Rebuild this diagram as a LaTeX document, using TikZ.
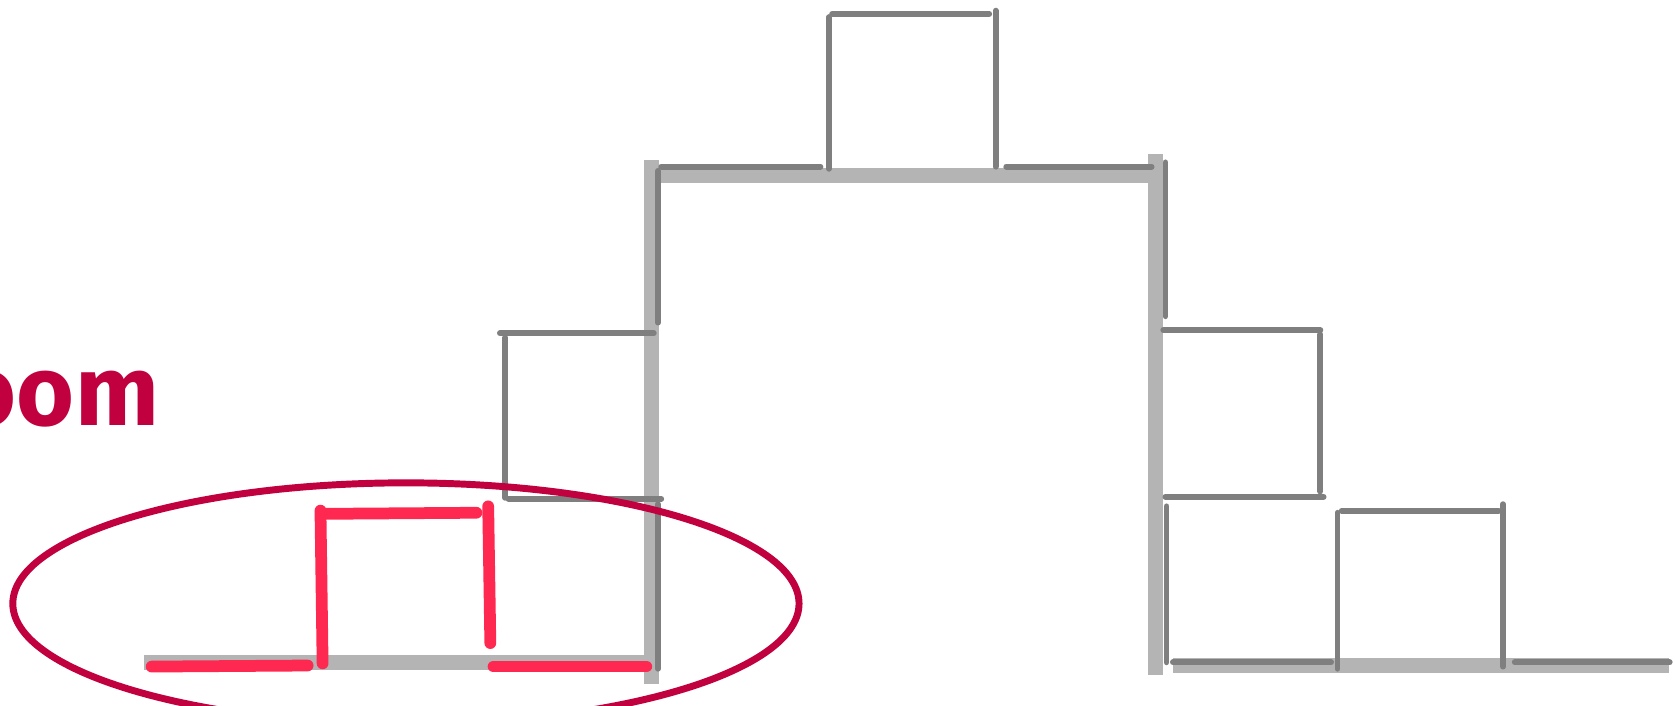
\documentclass[tikz,border=0pt]{standalone}
\usepackage{fontspec}
\newfontfamily\labelfont{Fira Sans}
\definecolor{hl}{HTML}{B4B4B4}
\definecolor{dk}{HTML}{7F7F7F}
\definecolor{rd}{HTML}{FF2850}
\definecolor{cr}{HTML}{C0003F}
\begin{document}
\begin{tikzpicture}[x=1pt,y=-1pt,
  shade/.style={draw=hl,line width=14pt,line cap=butt},
  edge/.style={draw=dk,line width=5.5pt,line cap=round},
  redge/.style={draw=rd,line width=11pt,line cap=round},
  zoomring/.style={draw=cr,line width=6.5pt}]
\useasboundingbox (0,0) rectangle (1568,660);
% highlight (thick gray)
\draw[shade] (617,164) -- (1080,164);
\draw[shade] (610,150) -- (610,640);
\draw[shade] (1082,144) -- (1082,632);
\draw[shade] (135,620) -- (610,620);
\draw[shade] (1098,623) -- (1562,623);
% top box
\draw[edge] (776,16) -- (776,158);
\draw[edge] (932,10) -- (932,156);
\draw[edge] (779,13) -- (926,13);
% level 1
\draw[edge] (619,156) -- (768,156);
\draw[edge] (942,156) -- (1078,156);
\draw[edge] (616,160) -- (616,302);
\draw[edge] (616,472) -- (616,626);
\draw[edge] (1091,152) -- (1091,296);
\draw[edge] (1092,474) -- (1092,620);
% left middle box
\draw[edge] (468,312) -- (612,312);
\draw[edge] (473,316) -- (473,466);
\draw[edge] (476,467) -- (619,467);
% right middle box
\draw[edge] (1089,309) -- (1236,309);
\draw[edge] (1236,313) -- (1236,460);
\draw[edge] (1091,465) -- (1239,465);
% right lower
\draw[edge] (1098,620) -- (1246,620);
\draw[edge] (1418,620) -- (1563,620);
\draw[edge] (1256,478) -- (1403,478);
\draw[edge] (1252,480) -- (1252,626);
\draw[edge] (1407,472) -- (1407,624);
% red subtree
\draw[redge] (142,624) -- (288,623);
\draw[redge] (462,624) -- (605,624);
\draw[redge] (300,478) -- (302,621);
\draw[redge] (457,474) -- (459,602);
\draw[redge] (304,481) -- (446,480);
% zoom ellipse
\draw[zoomring] (380,565) ellipse [x radius=368pt, y radius=113pt];
% label
\node[anchor=base east,inner sep=0pt,text=cr,font=\labelfont\bfseries\fontsize{93}{100}\selectfont] (lbl) at (149,398) {oom};
\end{tikzpicture}
\end{document}
